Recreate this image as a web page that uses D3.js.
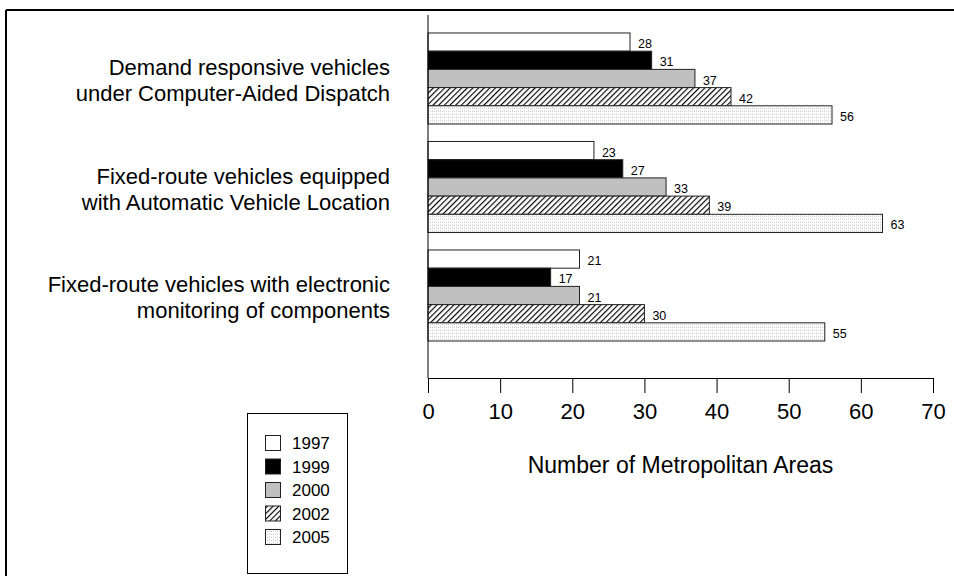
<!DOCTYPE html>
<html>
<head>
<meta charset="utf-8">
<script src="https://cdn.jsdelivr.net/npm/d3@7"></script>
<style>
  body { margin: 0; background: #fff; }
  text { font-family: Arial, "Liberation Sans", sans-serif; }
</style>
</head>
<body>
<div id="chart"></div>
<script>
// categories (each split into its two printed lines)
const categories = ["demand", "avl", "monitoring"];
const categoryLines = [
    ["Demand responsive vehicles", "under Computer-Aided Dispatch"],
    ["Fixed-route vehicles equipped", "with Automatic Vehicle Location"],
    ["Fixed-route vehicles with electronic", "monitoring of components"]
];
const years = ["1997", "1999", "2000", "2002", "2005"];

// series values, one per category
const v1997 = [28, 23, 21];
const v1999 = [31, 27, 17];
const v2000 = [37, 33, 21];
const v2002 = [42, 39, 30];
const v2005 = [56, 63, 55];
const series = [v1997, v1999, v2000, v2002, v2005];

const xTicks = [0, 10, 20, 30, 40, 50, 60, 70];

let width = 954;
let height = 576;

let svg = d3.select("#chart")
    .append("svg")
    .attr("width", width)
    .attr("height", height);

// patterns
let defs = svg.append("defs");

let hatch = defs.append("pattern")
    .attr("id", "hatch")
    .attr("patternUnits", "userSpaceOnUse")
    .attr("width", 4)
    .attr("height", 4)
    .attr("patternTransform", "rotate(45)");
hatch.append("rect").attr("width", 4).attr("height", 4).attr("fill", "#fff");
hatch.append("line")
    .attr("x1", 0.5).attr("y1", 0).attr("x2", 0.5).attr("y2", 4)
    .attr("stroke", "#000").attr("stroke-width", 1.3);

let dots = defs.append("pattern")
    .attr("id", "dots")
    .attr("patternUnits", "userSpaceOnUse")
    .attr("width", 4)
    .attr("height", 3);
dots.append("rect").attr("width", 4).attr("height", 3).attr("fill", "#fff");
dots.append("line")
    .attr("x1", 0).attr("y1", 0.5).attr("x2", 4).attr("y2", 0.5)
    .attr("stroke", "#c8c8c8").attr("stroke-width", 1)
    .attr("stroke-dasharray", "1 1");
dots.append("line")
    .attr("x1", 0.5).attr("y1", 0).attr("x2", 0.5).attr("y2", 3)
    .attr("stroke", "#dcdcdc").attr("stroke-width", 1)
    .attr("stroke-dasharray", "1 1");

const fills = ["#fff", "#000", "#c0c0c0", "url(#hatch)", "url(#dots)"];

// outer frame (only left and top visible)
svg.append("line")
    .attr("x1", 6).attr("y1", 10).attr("x2", 954).attr("y2", 10)
    .attr("stroke", "#000").attr("stroke-width", 2);
svg.append("line")
    .attr("x1", 6).attr("y1", 10).attr("x2", 6).attr("y2", 576)
    .attr("stroke", "#000").attr("stroke-width", 2);

// scales
let xScale = d3.scaleLinear()
    .domain([0, 70])
    .range([428, 933]);

let yScale = d3.scaleBand()
    .domain(categories)
    .range([24.25, 349.75])
    .paddingInner(0.161)
    .paddingOuter(0.0805);

let yInner = d3.scaleBand()
    .domain(years)
    .range([0, yScale.bandwidth()]);

let axisY = 378;

// bars
series.forEach(function (vals, si) {
    let g = svg.append("g").attr("class", "series-" + years[si]);
    g.selectAll("rect")
        .data(vals)
        .enter()
        .append("rect")
        .attr("x", xScale(0))
        .attr("y", function (d, i) { return yScale(categories[i]) + yInner(years[si]); })
        .attr("width", function (d) { return xScale(d) - xScale(0); })
        .attr("height", yInner.bandwidth())
        .attr("fill", fills[si])
        .attr("stroke", "#222")
        .attr("stroke-width", 1);

    g.selectAll("text")
        .data(vals)
        .enter()
        .append("text")
        .attr("x", function (d) { return xScale(d) + 8; })
        .attr("y", function (d, i) {
            return yScale(categories[i]) + yInner(years[si]) + yInner.bandwidth() / 2 + 6;
        })
        .attr("font-size", 12.5)
        .attr("fill", "#000")
        .text(function (d) { return d; });
});

// category labels
categories.forEach(function (c, i) {
    let cy = yScale(c) + yScale.bandwidth() / 2;
    svg.append("text")
        .attr("text-anchor", "end")
        .attr("x", 390)
        .attr("font-size", 22)
        .selectAll("tspan")
        .data(categoryLines[i])
        .enter()
        .append("tspan")
        .attr("x", 390)
        .attr("y", function (d, j) { return cy - 3.5 + j * 26; })
        .text(function (d) { return d; });
});

// y axis line
svg.append("line")
    .attr("x1", xScale(0)).attr("x2", xScale(0))
    .attr("y1", 15).attr("y2", axisY)
    .attr("stroke", "#000").attr("stroke-width", 1);

// x axis
let xAxis = d3.axisBottom(xScale)
    .tickValues(xTicks)
    .tickSize(15)
    .tickSizeOuter(0)
    .tickPadding(10);

let gx = svg.append("g")
    .attr("transform", `translate(0, ${axisY})`)
    .call(xAxis);
gx.selectAll("text")
    .attr("font-size", 22)
    .attr("font-family", "Arial, 'Liberation Sans', sans-serif")
    .attr("fill", "#000");
gx.selectAll("line").attr("stroke", "#000");
gx.select(".domain").attr("stroke", "#000");

// axis title
svg.append("text")
    .attr("text-anchor", "middle")
    .attr("x", (xScale(0) + xScale(70)) / 2)
    .attr("y", 473)
    .attr("font-size", 23)
    .text("Number of Metropolitan Areas");

// legend
let legend = svg.append("g");
legend.append("rect")
    .attr("x", 247.5).attr("y", 413.5)
    .attr("width", 100).attr("height", 160)
    .attr("fill", "#fff")
    .attr("stroke", "#000").attr("stroke-width", 1);

let items = legend.selectAll("g.item")
    .data(years)
    .enter()
    .append("g")
    .attr("class", "item")
    .attr("transform", function (d, i) { return `translate(265, ${443 + i * 23.5})`; });

items.append("rect")
    .attr("x", 0.5).attr("y", -7.5)
    .attr("width", 15).attr("height", 15)
    .attr("fill", function (d, i) { return fills[i]; })
    .attr("stroke", "#222")
    .attr("stroke-width", 1);

items.append("text")
    .attr("x", 27)
    .attr("y", 6)
    .attr("font-size", 17)
    .text(function (d) { return d; });
</script>
</body>
</html>
